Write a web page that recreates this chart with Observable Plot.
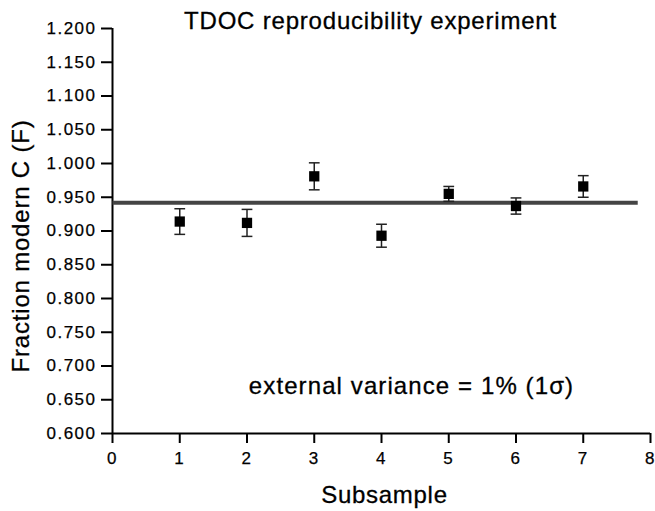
<!DOCTYPE html>
<html>
<head>
<meta charset="utf-8">
<script src="https://cdn.jsdelivr.net/npm/d3@7"></script>
<script src="https://cdn.jsdelivr.net/npm/@observablehq/plot@0.6"></script>
<style>
  body { margin: 0; background: #fff; }
  #chart svg { display: block; }
</style>
</head>
<body>
<div id="chart"></div>
<script>
// ---- data ----
const subsamples = [1, 2, 3, 4, 5, 6, 7];
const fractionModern = [0.914, 0.912, 0.981, 0.893, 0.955, 0.937, 0.966];
const errors = [0.019, 0.020, 0.020, 0.017, 0.011, 0.012, 0.016];
const meanValue = [0.942];
const meanLineStart = [0];
const meanLineEnd = [7.81];
const xTicks = [0, 1, 2, 3, 4, 5, 6, 7, 8];
const yTicks = [0.600, 0.650, 0.700, 0.750, 0.800, 0.850, 0.900, 0.950, 1.000, 1.050, 1.100, 1.150, 1.200];
const titleText = "TDOC reproducibility experiment";
const xLabel = "Subsample";
const yLabel = "Fraction modern C (F)";
const noteText = "external variance = 1% (1\u03C3)";

const points = subsamples.map((s, i) => ({x: s, y: fractionModern[i], lo: fractionModern[i] - errors[i], hi: fractionModern[i] + errors[i]}));
const meanLine = meanValue.map((v, i) => ({x1: meanLineStart[i], x2: meanLineEnd[i], y: v}));
const capHalf = 0.08;

const chart = Plot.plot({
  width: 655,
  height: 511,
  marginLeft: 112,
  marginRight: 5,
  marginTop: 28,
  marginBottom: 78,
  style: {fontFamily: "'Liberation Sans', Arial, sans-serif", background: "#fff", color: "#000"},
  x: {domain: [0, 8]},
  y: {domain: [0.6, 1.2]},
  marks: [
    Plot.axisY(yTicks, {tickSize: 11, tickPadding: 5, tickFormat: d3.format(".3f"), fontSize: 17, strokeWidth: 2, label: null, stroke: "#000", fill: "#000"}),
    Plot.axisX(xTicks, {tickSize: 10, tickPadding: 8, fontSize: 17, strokeWidth: 2, label: null, stroke: "#000", fill: "#000"}),
    Plot.ruleX([0], {y1: 0.6, y2: 1.2, stroke: "#000", strokeWidth: 2}),
    Plot.ruleY([0.6], {x1: 0, x2: 8, stroke: "#000", strokeWidth: 2}),
    Plot.link(meanLine, {x1: "x1", x2: "x2", y1: "y", y2: "y", stroke: "#444", strokeWidth: 4}),
    Plot.link(points, {x1: "x", x2: "x", y1: "lo", y2: "hi", stroke: "#222", strokeWidth: 1.5}),
    Plot.link(points, {x1: d => d.x - capHalf, x2: d => d.x + capHalf, y1: "hi", y2: "hi", stroke: "#222", strokeWidth: 1.5}),
    Plot.link(points, {x1: d => d.x - capHalf, x2: d => d.x + capHalf, y1: "lo", y2: "lo", stroke: "#222", strokeWidth: 1.5}),
    Plot.dot(points, {x: "x", y: "y", symbol: "square", r: 5.8, fill: "#000", stroke: "none"}),
    Plot.text([titleText], {frameAnchor: "top", lineAnchor: "bottom", dx: -11, dy: 0, fontSize: 24, fill: "#000"}),
    Plot.text([noteText], {frameAnchor: "bottom", lineAnchor: "bottom", dx: 30, dy: -40, fontSize: 24, fill: "#000"}),
    Plot.text([xLabel], {frameAnchor: "bottom", lineAnchor: "bottom", dx: 3, dy: 69, fontSize: 24, fill: "#000"}),
    Plot.text([yLabel], {frameAnchor: "left", textAnchor: "middle", lineAnchor: "bottom", rotate: -90, dx: -84, dy: 15, fontSize: 24, fill: "#000"})
  ]
});

document.getElementById("chart").appendChild(chart);

// widen glyph spacing and thicken slightly to mimic the reference's scanned lettering
const spacingByText = new Map([
  [titleText, "0.8px"],
  [noteText, "1.1px"],
  [xLabel, "0.7px"],
  [yLabel, "0.8px"]
]);
chart.querySelectorAll("text").forEach(t => {
  const s = t.textContent.trim();
  if (spacingByText.has(s)) {
    t.style.letterSpacing = spacingByText.get(s);
    t.style.stroke = "#000";
    t.style.strokeWidth = "0.3px";
  } else if (/^\d(\.\d{3})?$/.test(s)) {
    t.style.fontSize = "17px";
    t.style.letterSpacing = "1.5px";
    t.style.stroke = "#000";
    t.style.strokeWidth = "0.25px";
  }
});
</script>
</body>
</html>
